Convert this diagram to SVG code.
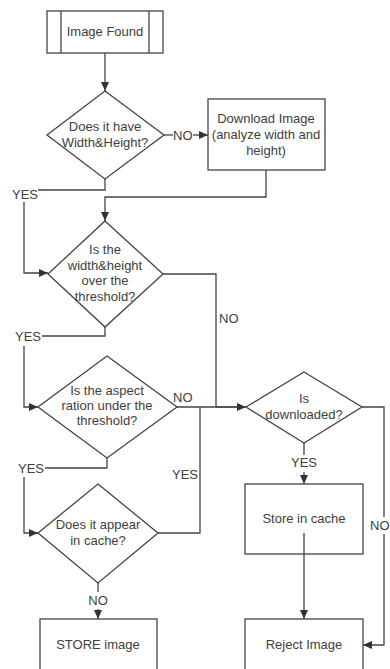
<svg xmlns="http://www.w3.org/2000/svg" width="390" height="669" viewBox="0 0 390 669">
  <defs>
    <marker id="arrow" markerUnits="userSpaceOnUse" markerWidth="10" markerHeight="10" refX="9" refY="4" orient="auto">
      <path d="M0,0 L9,4 L0,8 Z" fill="#333"/>
    </marker>
    <style>
      .shape { fill: #fff; stroke: #444; stroke-width: 1.3; }
      .line { fill: none; stroke: #444; stroke-width: 1.3; }
      .arr { marker-end: url(#arrow); }
      text { font-family: "Liberation Sans", Arial, sans-serif; font-size: 13px; fill: #404040; }
      .c { text-anchor: middle; }
      .r { text-anchor: end; }
    </style>
  </defs>
  <rect width="390" height="669" fill="#fff"/>

  <!-- connectors -->
  <g id="connectors">
    <line class="line arr" x1="105" y1="53" x2="105" y2="91"/>
    <line class="line" x1="164" y1="135" x2="173" y2="135"/>
    <text x="173" y="140">NO</text>
    <line class="line arr" x1="193" y1="135" x2="208" y2="135"/>
    <polyline class="line arr" points="266,170 266,197 105,197 105,221"/>
    <polyline class="line" points="105,179 105,190 38,190"/>
    <text class="r" x="38" y="199">YES</text>
    <polyline class="line arr" points="24,202 24,273 48,273"/>
    <polyline class="line" points="163,274 216,274 216,407"/>
    <text x="219" y="323">NO</text>
    <polyline class="line" points="105,327 105,336 42,336"/>
    <text class="r" x="41" y="341">YES</text>
    <polyline class="line arr" points="24,346 24,407 38,407"/>
    <line class="line arr" x1="177" y1="407" x2="246" y2="407"/>
    <line class="line" x1="216" y1="407" x2="238" y2="407" stroke-width="2"/>
    <text x="173" y="402">NO</text>
    <polyline class="line" points="107,458 107,468 45,468"/>
    <text class="r" x="44" y="473">YES</text>
    <polyline class="line arr" points="24,477 24,533 38,533"/>
    <polyline class="line" points="158,533 200,533 200,407"/>
    <text x="172" y="479">YES</text>
    <line class="line" x1="98" y1="583" x2="98" y2="592"/>
    <text class="c" x="98" y="605">NO</text>
    <line class="line arr" x1="98" y1="609" x2="98" y2="619"/>
    <line class="line" x1="304" y1="443" x2="304" y2="455"/>
    <text class="c" x="304" y="467">YES</text>
    <line class="line arr" x1="304" y1="472" x2="304" y2="484"/>
    <polyline class="line" points="362,407 384,407 384,517"/>
    <text x="370" y="530">NO</text>
    <polyline class="line arr" points="384,534 384,645 363,645"/>
    <line class="line arr" x1="304" y1="533" x2="304" y2="619"/>
  </g>

  <!-- nodes -->
  <g id="image-found">
    <rect class="shape" x="47" y="11" width="116" height="42"/>
    <line class="line" x1="61" y1="11" x2="61" y2="53"/>
    <line class="line" x1="149" y1="11" x2="149" y2="53"/>
    <text class="c" x="105" y="36">Image Found</text>
  </g>

  <g id="has-size">
    <polygon class="shape" points="105,91 164,135 105,179 47,135"/>
    <text class="c" x="105" y="131">Does it have</text>
    <text class="c" x="105" y="147">Width&amp;Height?</text>
  </g>

  <g id="download-image">
    <rect class="shape" x="208" y="99" width="117" height="71"/>
    <text class="c" x="266" y="123">Download Image</text>
    <text class="c" x="266" y="139">(analyze width and</text>
    <text class="c" x="266" y="155">height)</text>
  </g>

  <g id="size-threshold">
    <polygon class="shape" points="105,221 163,274 105,327 48,274"/>
    <text class="c" x="105" y="254">Is the</text>
    <text class="c" x="105" y="270">width&amp;height</text>
    <text class="c" x="105" y="285">over the</text>
    <text class="c" x="105" y="301">threshold?</text>
  </g>

  <g id="aspect-threshold">
    <polygon class="shape" points="107,356 177,407 107,458 38,407"/>
    <text class="c" x="107" y="395">Is the aspect</text>
    <text class="c" x="107" y="410">ration under the</text>
    <text class="c" x="107" y="425">threshold?</text>
  </g>

  <g id="is-downloaded">
    <polygon class="shape" points="304,372 362,407 304,443 246,407"/>
    <text class="c" x="304" y="403">Is</text>
    <text class="c" x="304" y="419">downloaded?</text>
  </g>

  <g id="in-cache">
    <polygon class="shape" points="98,484 158,533 98,583 38,533"/>
    <text class="c" x="98" y="529">Does it appear</text>
    <text class="c" x="98" y="545">in cache?</text>
  </g>

  <g id="store-in-cache">
    <rect class="shape" x="245" y="484" width="118" height="70"/>
    <text class="c" x="304" y="523">Store in cache</text>
    <line class="line" x1="304" y1="533" x2="304" y2="554"/>
  </g>

  <g id="store-image">
    <rect class="shape" x="40" y="619" width="117" height="70"/>
    <text class="c" x="98" y="649">STORE image</text>
  </g>

  <g id="reject-image">
    <rect class="shape" x="245" y="619" width="118" height="70"/>
    <text class="c" x="304" y="649">Reject Image</text>
  </g>
</svg>
